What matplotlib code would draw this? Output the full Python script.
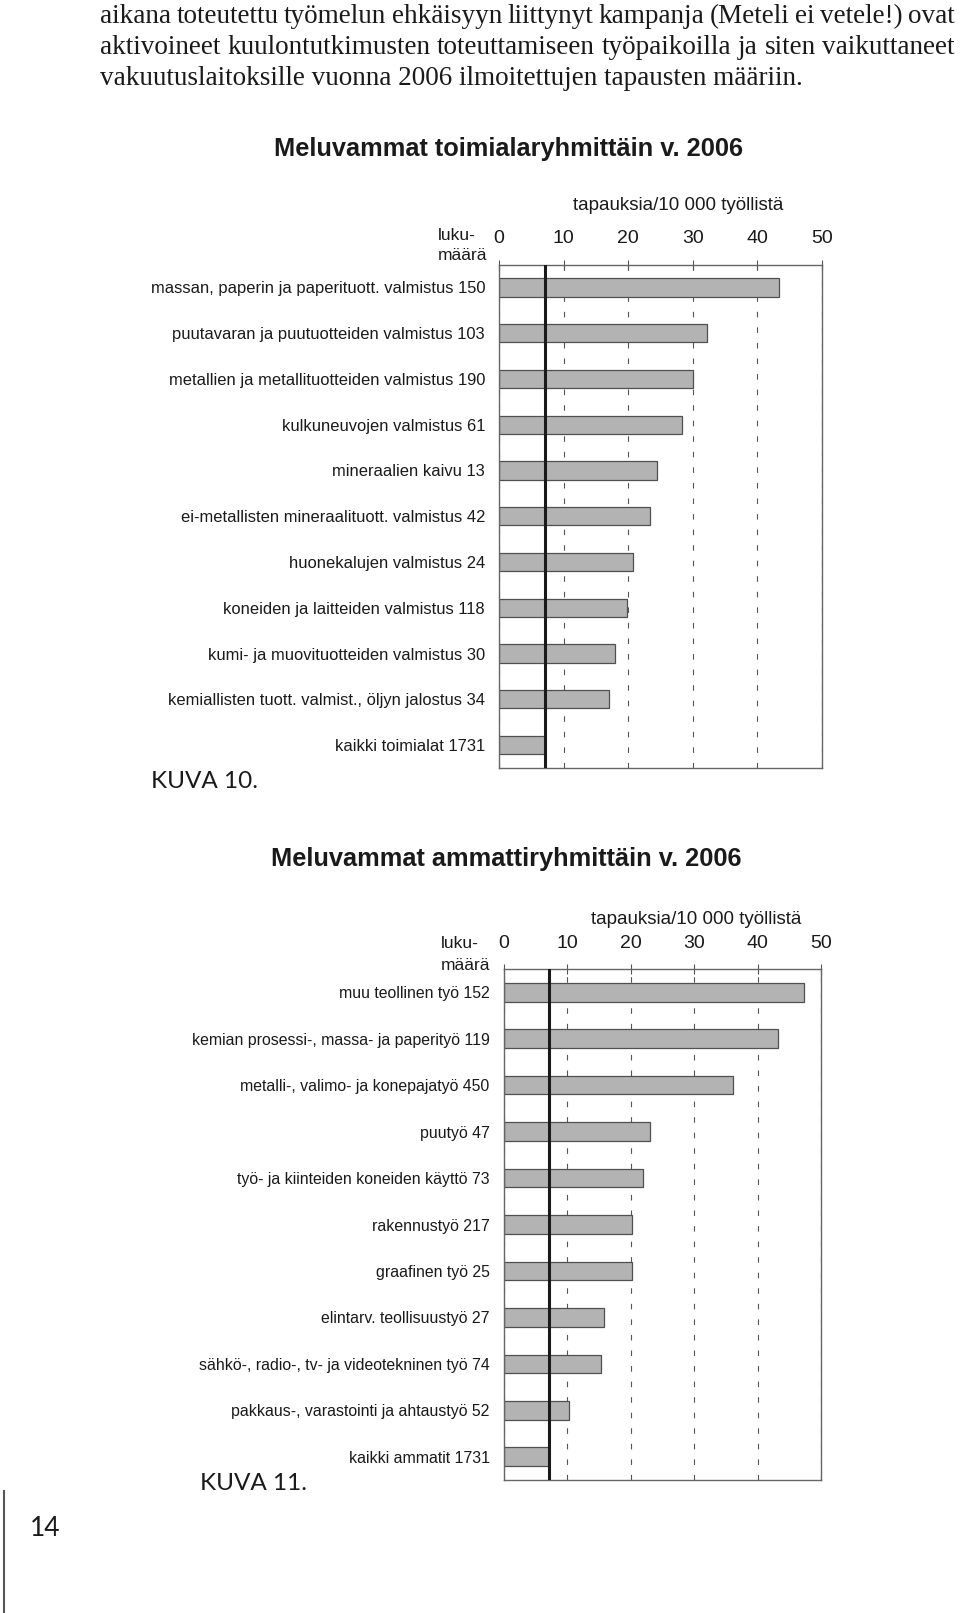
import matplotlib.pyplot as plt
from matplotlib.lines import Line2D
import numpy as np

W, H = 960, 1613

# --- data -------------------------------------------------------------
para = ["aikana toteutettu työmelun ehkäisyyn liittynyt kampanja (Meteli ei vetele!) ovat",
        "aktivoineet kuulontutkimusten toteuttamiseen työpaikoilla ja siten vaikuttaneet",
        "vakuutuslaitoksille vuonna 2006 ilmoitettujen tapausten määriin."]

ind_names = ["massan, paperin ja paperituott. valmistus", "puutavaran ja puutuotteiden valmistus",
             "metallien ja metallituotteiden valmistus", "kulkuneuvojen valmistus",
             "mineraalien kaivu", "ei-metallisten mineraalituott. valmistus",
             "huonekalujen valmistus", "koneiden ja laitteiden valmistus",
             "kumi- ja muovituotteiden valmistus", "kemiallisten tuott. valmist., öljyn jalostus",
             "kaikki toimialat"]
ind_counts = [150, 103, 190, 61, 13, 42, 24, 118, 30, 34, 1731]
ind_rates = [43.3, 32.2, 30.0, 28.3, 24.5, 23.4, 20.8, 19.8, 17.9, 17.1, 7.1]

occ_names = ["muu teollinen työ", "kemian prosessi-, massa- ja paperityö",
             "metalli-, valimo- ja konepajatyö", "puutyö",
             "työ- ja kiinteiden koneiden käyttö", "rakennustyö", "graafinen työ",
             "elintarv. teollisuustyö", "sähkö-, radio-, tv- ja videotekninen työ",
             "pakkaus-, varastointi ja ahtaustyö", "kaikki ammatit"]
occ_counts = [152, 119, 450, 47, 73, 217, 25, 27, 74, 52, 1731]
occ_rates = [47.4, 43.3, 36.2, 23.1, 22.0, 20.3, 20.3, 15.8, 15.4, 10.3, 7.1]

xticks = [0, 10, 20, 30, 40, 50]
unit_label = "tapauksia/10 000 työllistä"
count_label = ["luku-", "määrä"]

SANS = "Liberation Sans"
INK = "#1a1a1a"

fig = plt.figure(figsize=(W / 100, H / 100), dpi=100)


def fx(x):
    return x / W


def fy(y):
    return 1 - y / H


# --- paragraph on top (justified first two lines) ---------------------
r = fig.canvas.get_renderer()
baselines = [23, 54, 85]
for i, line in enumerate(para):
    if i < 2:
        words = line.split()
        texts = [fig.text(0, fy(baselines[i]), w, family="Liberation Serif", fontsize=19.5,
                          color=INK, va="baseline") for w in words]
        widths = [t.get_window_extent(r).width for t in texts]
        gap = (955 - 100 - sum(widths)) / (len(words) - 1)
        x = 100
        for t, w in zip(texts, widths):
            t.set_x(fx(x))
            x += w + gap
    else:
        fig.text(fx(100), fy(baselines[i]), line, family="Liberation Serif", fontsize=19.5,
                 color=INK, va="baseline")


def chart(box, names, counts, rates, title, title_xy, unit_xy, count_x, count_ys,
          lab_size, lab_pad, tick_pad, fig_label, fig_label_xy):
    left, top, right, bottom = box
    ax = fig.add_axes([fx(left), fy(bottom), fx(right - left), (bottom - top) / H])
    y = np.arange(len(rates))
    ax.barh(y, rates, height=0.4, color="#b3b3b3", edgecolor="#505050", linewidth=0.9, zorder=2)
    ax.axvline(rates[-1], color=INK, lw=2.2, zorder=3)
    ax.set_xlim(0, 50)
    ax.set_ylim(len(rates) - 0.5, -0.5)
    ax.xaxis.tick_top()
    ax.set_xticks(xticks)
    ax.set_xticklabels([str(v) for v in xticks], family=SANS, fontsize=14, color=INK)
    ax.tick_params(axis="x", direction="inout", length=7, width=0.8, color="#555555", pad=tick_pad)
    ax.set_yticks(y)
    ax.set_yticklabels([f"{n} {c}" for n, c in zip(names, counts)], family=SANS,
                       fontsize=lab_size, color=INK)
    ax.tick_params(axis="y", length=0, pad=lab_pad)
    ax.grid(axis="x", color="#555555", lw=0.8, linestyle=(0, (5, 9)), zorder=1)
    for s in ax.spines.values():
        s.set_color("#666666")
        s.set_linewidth(1.0)
    fig.text(fx(title_xy[0]), fy(title_xy[1]), title, family=SANS, fontsize=18.3,
             fontweight="bold", color=INK, ha="center", va="center")
    fig.text(fx(unit_xy[0]), fy(unit_xy[1]), unit_label, family=SANS, fontsize=13.5,
             color=INK, ha="center", va="center")
    for txt, cy in zip(count_label, count_ys):
        fig.text(fx(count_x), fy(cy), txt, family=SANS, fontsize=12.5,
                 color=INK, ha="left", va="center")
    fig.text(fx(fig_label_xy[0]), fy(fig_label_xy[1]), fig_label, family="Lato", fontsize=17.5,
             color=INK, ha="left", va="center")
    return ax


chart((499, 264.5, 822, 768), ind_names, ind_counts, ind_rates,
      "Meluvammat toimialaryhmittäin v. 2006", (509, 149), (678, 206), 438, (235, 256),
      11.9, 10, 9, "KUVA 10.", (151, 782))

chart((503.5, 969, 821, 1480), occ_names, occ_counts, occ_rates,
      "Meluvammat ammattiryhmittäin v. 2006", (506, 859), (696, 919), 441, (944, 965),
      11.4, 10, 9, "KUVA 11.", (200, 1484))

# page number and margin rule
fig.text(fx(30), fy(1528), "14", family="Lato", fontsize=19, color=INK, ha="left", va="center")
fig.add_artist(Line2D([fx(4), fx(4)], [fy(1491), 0], color="#555555", lw=1.5))

fig.savefig("out.png", dpi=100)
